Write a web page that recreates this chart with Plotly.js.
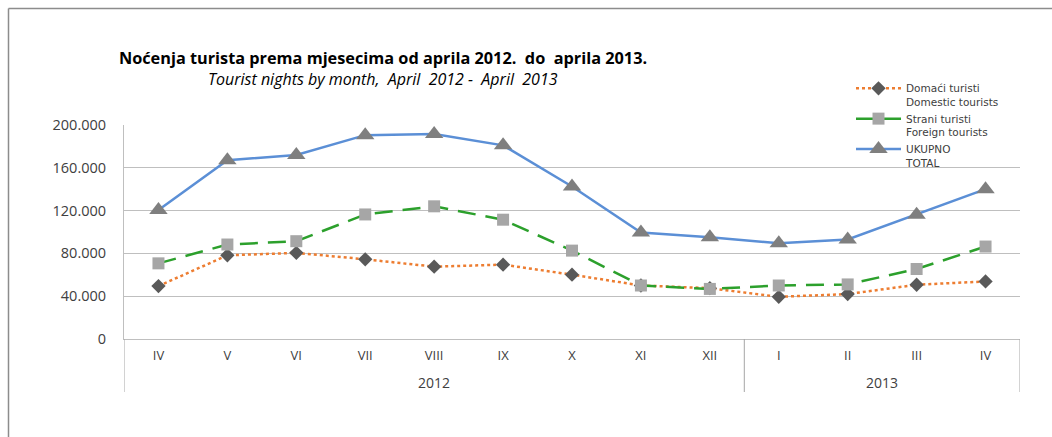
<!DOCTYPE html>
<html>
<head>
<meta charset="utf-8">
<script src="https://cdn.plot.ly/plotly-3.0.1.min.js"></script>
<style>html,body{margin:0;padding:0;background:#fff;}#chart{width:1052px;height:437px;}</style>
</head>
<body>
<div id="chart"></div>
<script>
const years = ["2012","2012","2012","2012","2012","2012","2012","2012","2012","2013","2013","2013","2013"];
const months = ["IV","V","VI","VII","VIII","IX","X","XI","XII","I","II","III","IV"];
const domestic = [49500, 78200, 80500, 74500, 67600, 69500, 60100, 50000, 47500, 39400, 42000, 50700, 53800];
const foreign = [70700, 88300, 91400, 116400, 124000, 111500, 82600, 50000, 46800, 50000, 51000, 65400, 86400];
const total = [120500, 167000, 172000, 190500, 191500, 181000, 142500, 99500, 95000, 89500, 93000, 116200, 140000];
const seriesNames = ["Domaći turisti<br>Domestic tourists", "Strani turisti<br>Foreign tourists", "UKUPNO<br>TOTAL"];
const yTicks = [0, 40000, 80000, 120000, 160000, 200000];

const FONT = "'Open Sans', sans-serif";
const NB = "\u00a0";
const idx = months.map((m, i) => i);

// year groups derived from the years array
const groups = [];
years.forEach((y, i) => {
  const g = groups[groups.length - 1];
  if (g && g.year === y) g.end = i; else groups.push({year: y, start: i, end: i});
});

const traces = [
  {type:"scatter", mode:"lines+markers", name:seriesNames[0], x:idx, y:domestic,
   line:{color:"#ed7d31", width:2.5, dash:"dot"},
   marker:{symbol:"diamond", size:11, color:"#595959"}},
  {type:"scatter", mode:"lines+markers", name:seriesNames[1], x:idx, y:foreign,
   line:{color:"#2ca02c", width:2.5, dash:"18px,10px"},
   marker:{symbol:"square", size:12, color:"#a6a6a6"}},
  {type:"scatter", mode:"lines+markers", name:seriesNames[2], x:idx, y:total,
   line:{color:"#5b8fd6", width:2.5},
   marker:{symbol:"triangle-up", size:16, color:"#7f7f7f"}}
];

const PL = 124, PB = 339, PW = 896, PH = 214;
const px = v => (v - PL) / PW;
const py = v => (PB - v) / PH;

const annotations = [
  {text:"<i>Tourist nights by month," + NB + " April" + NB + " 2012 -" + NB + " April" + NB + " 2013</i>",
   xref:"paper", yref:"paper", x:px(383), y:py(79), xanchor:"center", yanchor:"middle",
   showarrow:false, font:{family:FONT, size:16, color:"#000"}}
];
groups.forEach(g => annotations.push({
  text:g.year, xref:"x", yref:"paper", x:(g.start + g.end) / 2, y:py(382),
  xanchor:"center", yanchor:"middle", showarrow:false,
  font:{family:FONT, size:14, color:"#404040"}
}));

const shapes = [
  {type:"line", xref:"paper", yref:"paper", x0:px(8.5), x1:px(1052), y0:py(8.5), y1:py(8.5),
   line:{color:"#8c8c8c", width:1.5}},
  {type:"line", xref:"paper", yref:"paper", x0:px(8.5), x1:px(8.5), y0:py(8.5), y1:py(437),
   line:{color:"#8c8c8c", width:1.5}}
];
const bounds = [groups[0].start - 0.5].concat(groups.map(g => g.end + 0.5));
bounds.forEach(b => shapes.push({type:"line", xref:"x", yref:"paper", x0:b, x1:b, y0:0, y1:py(392),
  line:{color:"#a6a6a6", width:1}}));

const layout = {
  width:1052, height:437,
  margin:{l:PL, r:1052 - PL - PW, t:125, b:437 - PB},
  paper_bgcolor:"#fff", plot_bgcolor:"#fff",
  separators:",.",
  font:{family:FONT, size:13, color:"#404040"},
  showlegend:true,
  title:{text:"<b>Noćenja turista prema mjesecima od aprila 2012." + NB + " do" + NB + " aprila 2013.</b>",
    font:{family:FONT, size:16.3, color:"#000"}, xref:"container", yref:"container",
    x:383/1052, xanchor:"center", y:1 - 58/437, yanchor:"middle"},
  annotations:annotations,
  legend:{x:px(851), y:py(75), xanchor:"left", yanchor:"top", valign:"top",
    font:{family:"'DejaVu Sans', sans-serif", size:10.5, color:"#404040"}, bgcolor:"rgba(0,0,0,0)",
    itemwidth:45, tracegroupgap:0},
  xaxis:{range:[-0.5, months.length - 0.5], tickvals:idx, ticktext:months,
    showgrid:false, showline:true, linecolor:"#bfbfbf", linewidth:1, zeroline:false,
    ticks:"", ticklabelstandoff:4, tickfont:{family:FONT, size:13, color:"#404040"}},
  yaxis:{range:[0, 200000], tickvals:yTicks, tickformat:",d",
    showgrid:true, gridcolor:"#bfbfbf", gridwidth:1, zeroline:false,
    showline:true, linecolor:"#bfbfbf", ticks:"", ticklabelstandoff:14,
    tickfont:{family:FONT, size:14.5, color:"#404040"}},
  shapes:shapes
};

Plotly.newPlot("chart", traces, layout, {displayModeBar:false, staticPlot:true});
</script>
</body>
</html>
